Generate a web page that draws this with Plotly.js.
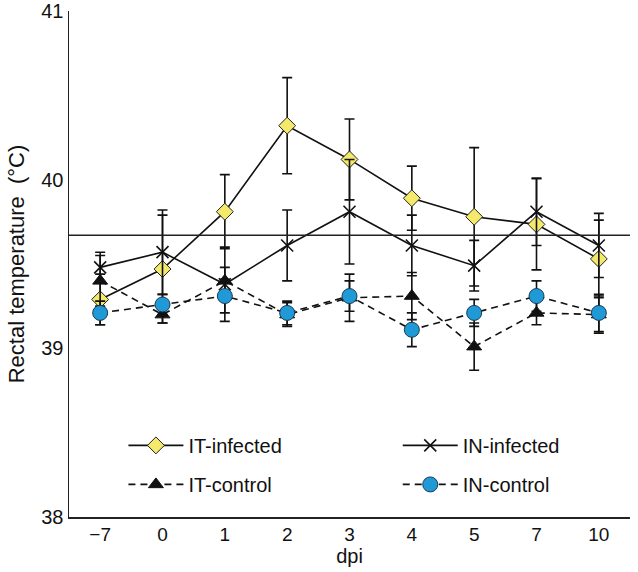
<!DOCTYPE html>
<html>
<head>
<meta charset="utf-8">
<script src="https://cdn.plot.ly/plotly-3.0.1.min.js"></script>
<style>html,body{margin:0;padding:0;background:#fff;}</style>
</head>
<body>
<div id="chart" style="width:638px;height:572px;"></div>
<script>
// ---- data ----
const dpiLabels = ['\u22127', '0', '1', '2', '3', '4', '5', '7', '10'];

const itInfected    = [39.29, 39.47, 39.81, 40.32, 40.12, 39.89, 39.78, 39.735, 39.53];
const itInfectedErr = [0.15, 0.32, 0.22, 0.285, 0.24, 0.19, 0.41, 0.27, 0.23];

const inInfected    = [39.48, 39.57, 39.38, 39.61, 39.81, 39.61, 39.49, 39.81, 39.61];
const inInfectedErr = [0.09, 0.25, 0.22, 0.21, 0.31, 0.18, 0.15, 0.20, 0.19];

const itControl    = [39.40, 39.20, 39.40, 39.20, 39.30, 39.31, 39.01, 39.21, 39.20];
const itControlErr = [0.15, 0.05, 0.08, 0.07, 0.14, 0.14, 0.14, 0.07, 0.11];

const inControl    = [39.21, 39.26, 39.31, 39.21, 39.31, 39.11, 39.21, 39.31, 39.21];
const inControlErr = [0.07, 0.06, 0.10, 0.07, 0.09, 0.10, 0.08, 0.09, 0.11];

const thresholdValue = [39.67];
const yTickVals = [38, 39, 40, 41];

// ---- styling ----
const FONT = 'Liberation Sans, Arial, sans-serif';
const errStyle = (arr) => ({type: 'data', array: arr, visible: true, color: '#111', thickness: 1.6, width: 5});

const traces = [
  {
    name: 'IT-infected', x: dpiLabels, y: itInfected, error_y: errStyle(itInfectedErr),
    mode: 'lines+markers', type: 'scatter', legend: 'legend', legendgroup: 'a',
    line: {color: '#111', width: 1.6},
    marker: {symbol: 'diamond', size: 13, color: '#f4e96a', line: {color: '#222', width: 1}}
  },
  {
    name: 'IN-infected', x: dpiLabels, y: inInfected, error_y: errStyle(inInfectedErr),
    mode: 'lines+markers', type: 'scatter', legend: 'legend2', legendgroup: 'c',
    line: {color: '#111', width: 1.6},
    marker: {symbol: 'x-thin', size: 12, color: '#111', line: {color: '#111', width: 1.6}}
  },
  {
    name: 'IT-control', x: dpiLabels, y: itControl, error_y: errStyle(itControlErr),
    mode: 'lines+markers', type: 'scatter', legend: 'legend', legendgroup: 'b',
    line: {color: '#111', width: 1.6, dash: '7px,5px'},
    marker: {symbol: 'triangle-up', size: 13, color: '#111', line: {color: '#111', width: 1}}
  },
  {
    name: 'IN-control', x: dpiLabels, y: inControl, error_y: errStyle(inControlErr),
    mode: 'lines+markers', type: 'scatter', legend: 'legend2', legendgroup: 'd',
    line: {color: '#111', width: 1.6, dash: '7px,5px'},
    marker: {symbol: 'circle', size: 15, color: '#1f9ad6', line: {color: '#1a3a55', width: 1}}
  }
];

const legendCommon = {
  orientation: 'v', xanchor: 'left', yanchor: 'top', y: 0.18,
  traceorder: 'grouped', tracegroupgap: 10, itemwidth: 55,
  bgcolor: 'rgba(0,0,0,0)', font: {family: FONT, size: 20, color: '#111'}
};

const layout = {
  width: 638, height: 572,
  margin: {l: 69, r: 8, t: 11, b: 55},
  paper_bgcolor: '#fff', plot_bgcolor: '#fff',
  font: {family: FONT, color: '#111'},
  showlegend: true,
  legend: Object.assign({}, legendCommon, {x: 0.097}),
  legend2: Object.assign({}, legendCommon, {x: 0.586}),
  xaxis: {
    type: 'category', categoryorder: 'array', categoryarray: dpiLabels,
    range: [-0.5, 8.5], showline: true, linecolor: '#222', linewidth: 1.5,
    ticks: '', showgrid: false, zeroline: false,
    tickfont: {family: FONT, size: 19, color: '#111'},
    title: {text: 'dpi', font: {family: FONT, size: 20, color: '#111'}, standoff: 0}
  },
  yaxis: {
    range: [38, 41], tickvals: yTickVals, showline: true, linecolor: '#222', linewidth: 1.5,
    ticks: '', showgrid: false, zeroline: false,
    tickfont: {family: FONT, size: 20, color: '#111'},
    title: {text: 'Rectal temperature  (\u00B0C)', font: {family: FONT, size: 22, color: '#111'}, standoff: 10}
  },
  shapes: [{
    type: 'line', xref: 'paper', yref: 'y', x0: 0, x1: 1,
    y0: thresholdValue[0], y1: thresholdValue[0],
    line: {color: '#222', width: 1.5}
  }]
};

Plotly.newPlot('chart', traces, layout, {displayModeBar: false, staticPlot: true});
</script>
</body>
</html>
